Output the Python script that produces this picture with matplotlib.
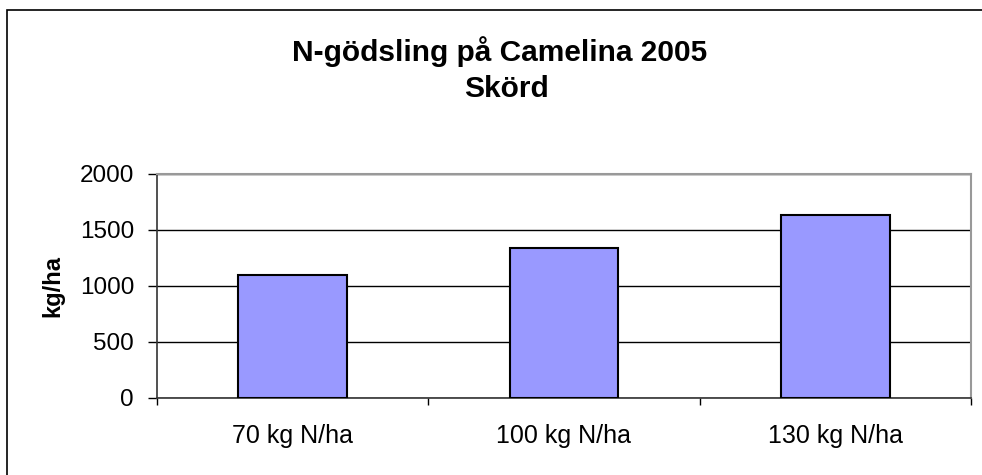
import matplotlib.pyplot as plt
from matplotlib.patches import Rectangle

plt.rcParams['font.family'] = ['Liberation Sans', 'DejaVu Sans']

categories = ['70 kg N/ha', '100 kg N/ha', '130 kg N/ha']
skord = [1100, 1337, 1630]
yticks = [0, 500, 1000, 1500, 2000]

fig = plt.figure(figsize=(9.82, 4.75), dpi=100)
ax = fig.add_axes([157 / 982, 1 - 398 / 475, 814 / 982, 224 / 475])

# outer chart frame (cut off at right and bottom like the original)
fig.patches.append(Rectangle((7 / 982, -0.1), 1.2, 1 - 10 / 475 + 0.1,
                             transform=fig.transFigure, fill=False,
                             edgecolor='black', linewidth=1.2))

x = list(range(len(categories)))
ax.bar(x, skord, width=0.4, color='#9999ff', edgecolor='black', linewidth=1.5, zorder=3)

ax.set_xlim(-0.5, 2.5)
ax.set_ylim(0, 2000)
ax.set_yticks(yticks)
ax.yaxis.grid(True, color='black', linewidth=1, zorder=0)
ax.tick_params(axis='y', labelsize=17.5, length=6.5, width=1, direction='out', pad=10)

ax.set_xticks([-0.5, 0.5, 1.5, 2.5])
ax.set_xticklabels([])
ax.set_xticks(x, minor=True)
ax.set_xticklabels(categories, minor=True)
ax.tick_params(axis='x', which='major', length=5, width=1, direction='out')
ax.tick_params(axis='x', which='minor', length=0, labelsize=18, pad=19)

for side in ['top', 'right']:
    ax.spines[side].set_color('#999999')
    ax.spines[side].set_linewidth(1.5)
for side in ['left', 'bottom']:
    ax.spines[side].set_color('#333333')
    ax.spines[side].set_linewidth(1.2)

ax.set_ylabel('kg/ha', fontsize=17, fontweight='bold', labelpad=11)

fig.text(500 / 982, 1 - 52 / 475, 'N-gödsling på Camelina 2005', ha='center', va='center',
         fontsize=21.5, fontweight='bold')
fig.text(506 / 982, 1 - 89 / 475, 'Skörd', ha='center', va='center',
         fontsize=21.5, fontweight='bold')

fig.savefig('out.png', dpi=100)
